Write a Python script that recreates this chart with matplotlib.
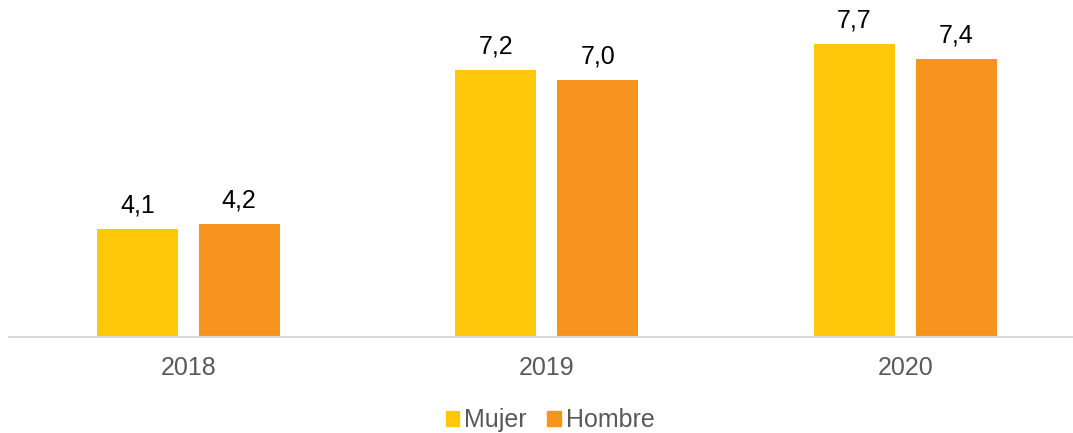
import numpy as np
import matplotlib.pyplot as plt
from matplotlib.patches import Patch

plt.rcParams['font.family'] = ['Liberation Sans', 'DejaVu Sans']

anios = ['2018', '2019', '2020']
mujer = [4.1, 7.2, 7.7]
hombre = [4.2, 7.0, 7.4]

c_mujer = '#FFC80A'
c_hombre = '#F7941E'

fig = plt.figure(figsize=(10.73, 4.33), dpi=100)
ax = fig.add_axes([9/1073, 96/433, 1064/1073, 0.934 - 96/433])

x = np.arange(len(anios))
w = 0.226
b1 = ax.bar(x - 0.142, mujer, w, color=c_mujer, bottom=0)
b2 = ax.bar(x + 0.142, hombre, w, color=c_hombre, bottom=0)

for bars, vals in [(b1, mujer), (b2, hombre)]:
    for r, v in zip(bars, vals):
        ax.annotate(f'{v:.1f}'.replace('.', ','), (r.get_x() + r.get_width()/2, v),
                    xytext=(0, 12), textcoords='offset points', ha='center', va='baseline',
                    fontsize=18, color='black', annotation_clip=False)

ax.set_ylim(2, 8)
ax.set_xlim(-0.5, -0.5 + 1064/358.5)
ax.set_yticks([])
ax.set_xticks(x)
ax.set_xticklabels(anios, fontsize=18, color='#595959')
ax.tick_params(axis='x', length=0, pad=14)
for s in ['top', 'right', 'left']:
    ax.spines[s].set_visible(False)
ax.spines['bottom'].set_color('#D9D9D9')
ax.spines['bottom'].set_linewidth(1.5)

handles = [Patch(color=c_mujer, label='Mujer'), Patch(color=c_hombre, label='Hombre')]
leg = fig.legend(handles=handles, loc='center', bbox_to_anchor=(550/1073, 0.03), ncol=2,
                 frameon=False, fontsize=18, handlelength=0.55, handleheight=0.55,
                 handletextpad=0.2, columnspacing=0.8)
for t in leg.get_texts():
    t.set_color('#595959')

fig.savefig('out.png', dpi=100)
